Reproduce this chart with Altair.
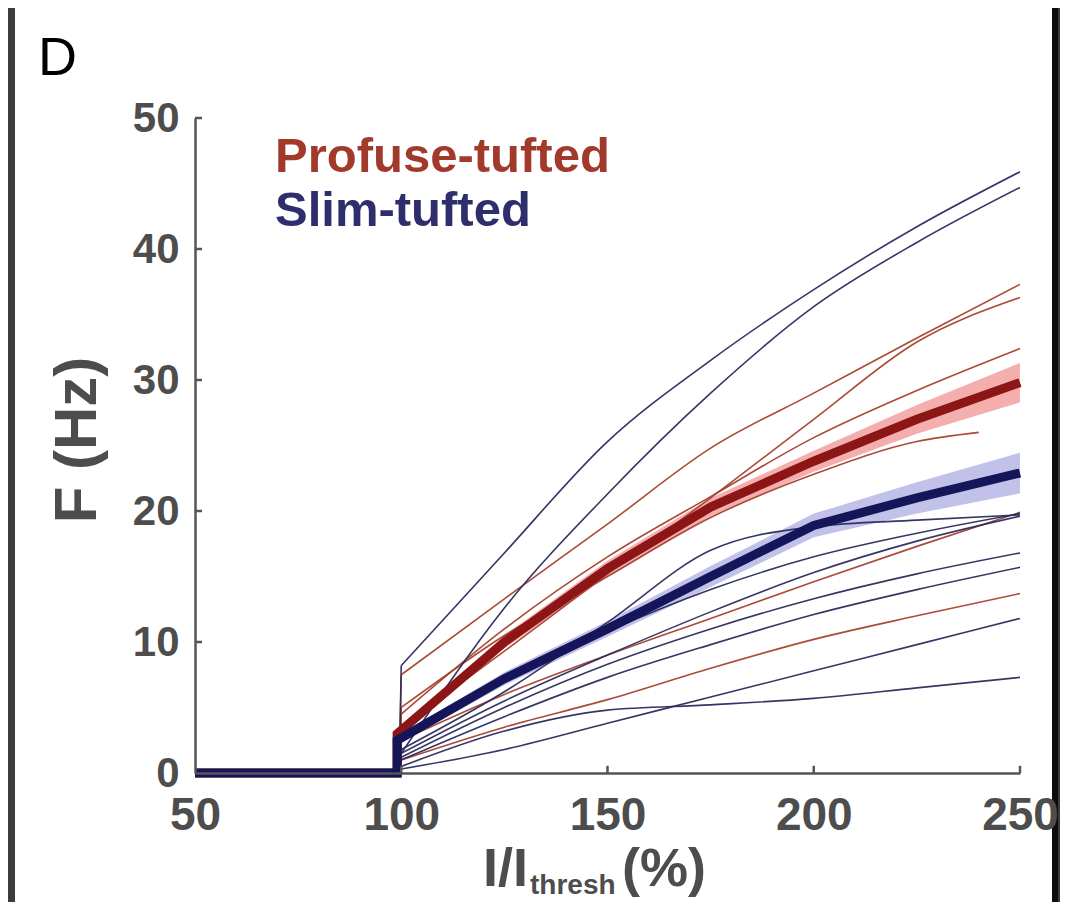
import altair as alt
import pandas as pd

# ---------------- data ----------------
X_GRID = [100, 125, 150, 175, 200, 225, 250]

PROFUSE_LINES = {
    "P1": [7.5, 13.3, 19.0, 24.8, 29.0, 33.2, 37.3],
    "P2": [3.5, 9.3, 15.2, 21.0, 27.0, 32.9, 36.3],
    "P3": [4.5, 11.0, 16.5, 21.1, 25.6, 29.2, 32.4],
    "P4": [5.0, 10.5, 15.0, 19.5, 22.8, 25.3, 26.0],
    "P5": [2.5, 6.0, 9.0, 11.8, 14.6, 17.3, 19.9],
    "P6": [1.0, 3.5, 5.6, 8.0, 10.2, 12.0, 13.7],
}
P4_X = [100, 125, 150, 175, 200, 225, 240]

SLIM_LINES = {
    "S1": [8.2, 16.8, 25.3, 31.5, 36.9, 41.7, 45.9],
    "S2": [1.5, 12.6, 21.3, 29.0, 35.6, 40.5, 44.7],
    "S3": [2.5, 7.0, 10.8, 14.0, 16.5, 18.3, 19.8],
    "S4": [1.5, 5.5, 9.0, 12.3, 15.3, 17.7, 19.6],
    "S5": [1.2, 5.0, 8.3, 11.0, 13.3, 15.2, 16.8],
    "S6": [1.0, 4.3, 7.3, 9.8, 12.1, 14.0, 15.7],
    "S7": [0.3, 1.8, 3.8, 5.8, 7.8, 9.8, 11.8],
    "S8": [0.5, 3.2, 4.8, 5.2, 5.7, 6.5, 7.3],
    "S9": [1.8, 6.2, 11.5, 17.0, 18.8, 19.3, 19.7],
}

MEAN_X = [50, 99, 99, 125, 150, 175, 200, 225, 250]
PROFUSE_MEAN = [0, 0, 3.0, 10.0, 15.6, 20.3, 23.8, 27.0, 29.8]
SLIM_MEAN = [0, 0, 2.5, 7.2, 11.0, 15.0, 18.9, 21.0, 22.9]
BAND_X = [99, 125, 150, 175, 200, 225, 250]
PROFUSE_SEM = [0.3, 0.5, 0.6, 0.7, 0.8, 1.1, 1.5]
SLIM_SEM = [0.3, 0.5, 0.6, 0.8, 0.9, 1.2, 1.55]

GROUPS = ["Profuse-tufted", "Slim-tufted"]
X_TICKS = [50, 100, 150, 200, 250]
Y_TICKS = [0, 10, 20, 30, 40, 50]
ONSET_X = 99.5

# ---------------- styles ----------------
RED_THIN = "#a6402c"
BLUE_THIN = "#2b2b5e"
RED_MEAN = "#8c1515"
BLUE_MEAN = "#15155a"
RED_BAND = "#f3a0a0"
BLUE_BAND = "#b6b6e6"
AXIS_COL = "#555555"
TXT_COL = "#4d4d4d"
FONT = "Liberation Sans"

# ---------------- tables ----------------
rows, jumps = [], []
for group, lines in ((GROUPS[0], PROFUSE_LINES), (GROUPS[1], SLIM_LINES)):
    for name, ys in lines.items():
        xs = P4_X if name == "P4" else X_GRID
        jumps.append(dict(group=group, cell=name, i=0, x=ONSET_X, y=0.0))
        jumps.append(dict(group=group, cell=name, i=1, x=xs[0], y=ys[0]))
        for k, (xv, yv) in enumerate(zip(xs, ys)):
            rows.append(dict(group=group, cell=name, i=k, x=xv, y=yv))
thin = pd.DataFrame(rows)
jump = pd.DataFrame(jumps)

mean_p = pd.DataFrame({"x": MEAN_X, "y": PROFUSE_MEAN, "i": range(len(MEAN_X))})
mean_s = pd.DataFrame({"x": MEAN_X, "y": SLIM_MEAN, "i": range(len(MEAN_X))})
band_p = pd.DataFrame({"x": BAND_X,
                       "lo": [m - s for m, s in zip(PROFUSE_MEAN[2:], PROFUSE_SEM)],
                       "hi": [m + s for m, s in zip(PROFUSE_MEAN[2:], PROFUSE_SEM)]})
band_s = pd.DataFrame({"x": BAND_X,
                       "lo": [m - s for m, s in zip(SLIM_MEAN[2:], SLIM_SEM)],
                       "hi": [m + s for m, s in zip(SLIM_MEAN[2:], SLIM_SEM)]})

xscale = alt.Scale(domain=[50, 250], nice=False, zero=False)
yscale = alt.Scale(domain=[0, 50], nice=False)

xaxis = alt.Axis(values=X_TICKS, ticks=False, grid=False, title=None, zindex=1,
                 labelFont=FONT, labelFontSize=46, labelFontWeight="bold",
                 labelColor=TXT_COL, labelPadding=20, labelFlush=False,
                 domainColor=AXIS_COL, domainWidth=2.5)
yaxis = alt.Axis(values=Y_TICKS, ticks=False, grid=False, title=None, zindex=1,
                 labelFont=FONT, labelFontSize=42, labelFontWeight="bold",
                 labelColor=TXT_COL, labelPadding=16, labelFlush=False,
                 domainColor=AXIS_COL, domainWidth=2.5)

one = lambda s: pd.DataFrame({"t": [s]})

# white panel + right black edge (decoration)
panel = alt.Chart(one("")).mark_rect(color="white").encode(
    x=alt.value(-180), x2=alt.value(857), y=alt.value(-112), y2=alt.value(790))
edge = alt.Chart(one("")).mark_rect(color="#0c0c0c").encode(
    x=alt.value(857), x2=alt.value(863), y=alt.value(-112), y2=alt.value(790))

bandP = alt.Chart(band_p).mark_area(color=RED_BAND, opacity=0.85).encode(
    x=alt.X("x:Q", scale=xscale, axis=xaxis),
    y=alt.Y("lo:Q", scale=yscale, axis=yaxis), y2="hi:Q")
bandS = alt.Chart(band_s).mark_area(color=BLUE_BAND, opacity=0.85).encode(
    x=alt.X("x:Q", scale=xscale), y=alt.Y("lo:Q", scale=yscale), y2="hi:Q")

color_enc = alt.Color("group:N", scale=alt.Scale(domain=GROUPS, range=[RED_THIN, BLUE_THIN]),
                      legend=None)

jump_lines = alt.Chart(jump).mark_line(strokeWidth=1.6, opacity=0.95).encode(
    x=alt.X("x:Q", scale=xscale), y=alt.Y("y:Q", scale=yscale),
    detail="cell:N", order="i:Q", color=color_enc)

thin_lines = alt.Chart(thin).mark_line(strokeWidth=1.6, opacity=0.95,
                                       interpolate="monotone").encode(
    x=alt.X("x:Q", scale=xscale), y=alt.Y("y:Q", scale=yscale),
    detail="cell:N", order="i:Q", color=color_enc)

lineP = alt.Chart(mean_p).mark_line(color=RED_MEAN, strokeWidth=9).encode(
    x=alt.X("x:Q", scale=xscale), y=alt.Y("y:Q", scale=yscale), order="i:Q")
lineS = alt.Chart(mean_s).mark_line(color=BLUE_MEAN, strokeWidth=9).encode(
    x=alt.X("x:Q", scale=xscale), y=alt.Y("y:Q", scale=yscale), order="i:Q")

xt = alt.Chart(pd.DataFrame({"v": X_TICKS[1:]})).mark_rule(color=AXIS_COL, strokeWidth=2.5).encode(
    x=alt.X("v:Q", scale=xscale), y=alt.datum(0), y2=alt.datum(0.55))
yt = alt.Chart(pd.DataFrame({"v": Y_TICKS[1:]})).mark_rule(color=AXIS_COL, strokeWidth=2.5).encode(
    y=alt.Y("v:Q", scale=yscale), x=alt.datum(50), x2=alt.datum(51.7))

def label(s, px, py, size, color, weight="bold", align="left", angle=0, baseline="alphabetic"):
    kw = dict(font=FONT, fontSize=size, fontWeight=weight, color=color,
              align=align, baseline=baseline)
    if angle:
        kw["angle"] = angle
    return alt.Chart(one(s)).mark_text(**kw).encode(
        x=alt.value(px), y=alt.value(py), text="t:N")

texts = [
    label("D", -157, -43, 54, "#000000", weight="normal"),
    label(GROUPS[0], 80, 54, 49, "#a23a2c"),
    label(GROUPS[1], 80, 108, 49, "#2e2e6c"),
    label("F (Hz)", -117, 322, 60, TXT_COL, align="center", angle=270, baseline="middle"),
    label("I/I", 333, 768, 54, TXT_COL, align="right"),
    label("thresh", 335, 776, 28, TXT_COL),
    label("(%)", 427, 768, 54, TXT_COL),
]

chart = alt.layer(panel, edge, bandP, bandS, jump_lines, thin_lines, lineP, lineS,
                  xt, yt, *texts).properties(
    width=825, height=655,
    padding={"left": 187, "top": 110, "right": 40, "bottom": 129},
    autosize=alt.AutoSizeParams(type="none"),
).configure(background="#3b3b3b").configure_view(stroke=None)

chart.save("out.html", embed_options={"renderer": "svg", "actions": False})
